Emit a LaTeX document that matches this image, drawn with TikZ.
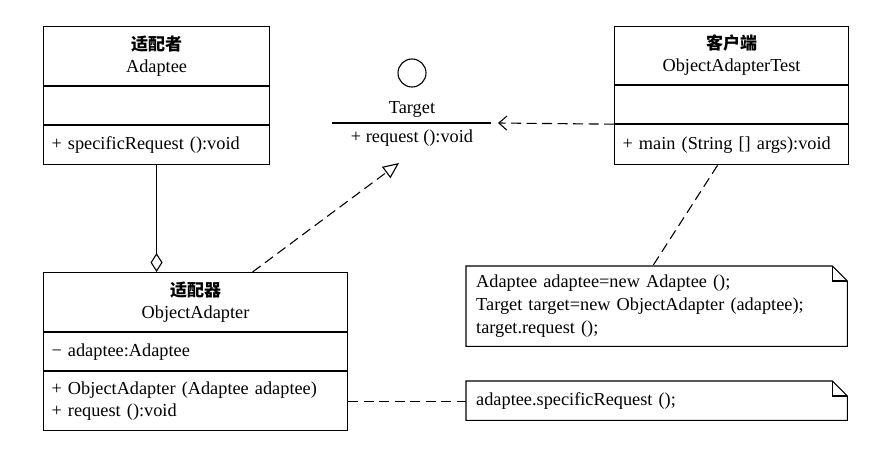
\documentclass[tikz,border=0pt]{standalone}
\usepackage{fontspec}
\setmainfont{Liberation Serif}
\newfontfamily\cjk{Noto Sans CJK SC}
\usetikzlibrary{positioning,arrows.meta}
\tikzset{>=stealth,
  part/.style={draw, line width=1.1pt, inner xsep=8pt, inner ysep=0pt, anchor=north west,
    font=\fontsize{18.3}{22}\selectfont},
  title/.style={part, align=center},
  member/.style={part, align=left},
  txt/.style={inner sep=0pt, font=\fontsize{18.3}{22}\selectfont},
  dep/.style={line width=1.1pt, dash pattern=on 10pt off 5.5pt},
  notetext/.style={inner xsep=10pt, inner ysep=0pt, anchor=north west, align=left,
    font=\fontsize{18.3}{23}\selectfont}
}
\newcommand{\cn}[1]{{\cjk\bfseries\fontsize{17}{22}\selectfont #1}}
\newcommand{\notebox}[1]{%
  \draw[line width=1.1pt] (#1.north west) -- ([xshift=-15pt]#1.north east)
    -- ([yshift=-15pt]#1.north east) -- (#1.south east) -- (#1.south west) -- cycle;
  \draw[line width=1.1pt] ([xshift=-15pt]#1.north east) -- ([xshift=-15pt,yshift=-15pt]#1.north east)
    -- ([yshift=-15pt]#1.north east);}

\begin{document}
\begin{tikzpicture}[x=1pt,y=-1pt]
\useasboundingbox (0,0) rectangle (891,452);

\node[title, text width=210pt, minimum height=59pt] (adapteeA) at (43,26) {\cn{适配者}\\Adaptee};
\node[member, text width=210pt, minimum height=38pt, below=0pt of adapteeA] (adapteeB) {};
\node[member, text width=210pt, minimum height=39pt, below=0pt of adapteeB] (adapteeC) {+ specificRequest ():void};

\node[title, text width=218pt, minimum height=58pt] (clientA) at (614,26) {\cn{客户端}\\ObjectAdapterTest};
\node[member, text width=218pt, minimum height=38pt, below=0pt of clientA] (clientB) {};
\node[member, text width=218pt, minimum height=40pt, below=0pt of clientB] (clientC) {+ main (String [] args):void};

\node[title, text width=288pt, minimum height=59pt] (oadaptA) at (43,272) {\cn{适配器}\\ObjectAdapter};
\node[member, text width=288pt, minimum height=38pt, below=0pt of oadaptA] (oadaptB) {− adaptee:Adaptee};
\node[member, text width=288pt, minimum height=59pt, below=0pt of oadaptB] (oadaptC) {+ ObjectAdapter (Adaptee adaptee)\\+ request ():void};

\node[draw, circle, line width=1.1pt, minimum size=28pt, inner sep=0pt] (tgtC) at (412,73) {};
\node[txt] (tgtN) at (412,109) {Target};
\coordinate (tgtL) at (332,123);
\coordinate (tgtR) at (491,123);
\coordinate (tgtH) at (498,123);
\coordinate (tgtS) at (399,163);
\draw[line width=1.1pt] (tgtL) -- (tgtR);
\node[txt] (tgtM) at (412,138) {+ request ():void};

\node[notetext, text width=361pt, minimum height=80pt] (note1) at (466,266)
  {Adaptee adaptee=new Adaptee ();\\Target target=new ObjectAdapter (adaptee);\\target.request ();};
\notebox{note1}
\node[notetext, text width=361pt, minimum height=39pt] (note2) at (466,381) {adaptee.specificRequest ();};
\notebox{note2}

\draw[line width=1.1pt, -{Diamond[open, length=19pt, width=12pt]}] (adapteeC.south) -- (adapteeC.south |- oadaptA.north);
\draw[dep, -{Triangle[open, length=16pt, width=14pt]}] ([xshift=57pt]oadaptA.north) -- (tgtS);
\draw[dep, -{Straight Barb[length=8pt, width=14pt]}] (clientC.north west) -- (tgtH);
\draw[dep] ([xshift=-14pt]clientC.south) -- ([xshift=-4pt]note1.north);
\draw[dep] (oadaptC.east) -- (oadaptC.east -| note2.west);
\end{tikzpicture}
\end{document}
